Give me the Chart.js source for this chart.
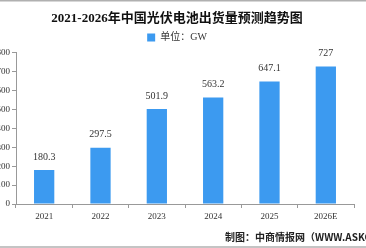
<!DOCTYPE html>
<html><head><meta charset="utf-8">
<script src="https://cdn.jsdelivr.net/npm/chart.js@4/dist/chart.umd.min.js"></script>
<style>
html,body{margin:0;padding:0;background:#fff;}
#wrap{position:relative;width:366px;height:248px;}
canvas{display:block;}
</style></head>
<body><div id="wrap"><canvas id="c" width="366" height="248"></canvas></div>
<script>
const categories = ['2021','2022','2023','2024','2025','2026E'];
const shipments = [180.3, 297.5, 501.9, 563.2, 647.1, 727];
const valueLabels = ['180.3','297.5','501.9','563.2','647.1','727'];
const yTicks = [0,100,200,300,400,500,600,700,800];
const titleText = '2021-2026年中国光伏电池出货量预测趋势图';
const legendText = '单位：GW';
const sourceText = '制图：中商情报网（WWW.ASKCI.COM）';

const serif = '"Liberation Serif","Noto Sans CJK SC",serif';
const cjk = '"Noto Sans CJK SC","Liberation Sans",sans-serif';

const deco = {
  id:'deco',
  beforeDraw(chart){
    const ctx = chart.ctx;
    ctx.save();
    ctx.fillStyle='#fff'; ctx.fillRect(0,0,chart.width,chart.height);
    ctx.restore();
  },
  afterDraw(chart){
    const ctx = chart.ctx;
    ctx.save();
    ctx.strokeStyle='#b0b0b0'; ctx.lineWidth=1.5;
    ctx.beginPath(); ctx.moveTo(0,0.75); ctx.lineTo(chart.width,0.75); ctx.stroke();
    ctx.beginPath(); ctx.moveTo(0,247); ctx.lineTo(chart.width,247); ctx.stroke();
    const meta = chart.getDatasetMeta(0);
    ctx.fillStyle='#333';
    ctx.font = '10px '+serif;
    ctx.textAlign='center'; ctx.textBaseline='middle';
    meta.data.forEach((bar,i)=>{ ctx.fillText(valueLabels[i], bar.x, bar.y-13); });
    ctx.font = 'bold 10px '+cjk;
    ctx.textAlign='left';
    ctx.fillStyle='#222';
    ctx.fillText(sourceText, 225, 237);
    ctx.restore();
  }
};

new Chart(document.getElementById('c'), {
  type:'bar',
  data:{ labels:categories, datasets:[{ label:legendText, data:shipments,
    backgroundColor:'#3c9af0', borderWidth:0,
    barPercentage:0.36, categoryPercentage:1 }]},
  options:{
    responsive:false, animation:false,
    layout:{padding:{top:0,right:12,left:0,bottom:0}},
    plugins:{
      title:{display:true, text:titleText, color:'#111',
        font:{family:serif, size:13, weight:'bold'}, padding:{top:11,bottom:1}},
      legend:{display:true, labels:{boxWidth:8, boxHeight:8, color:'#333', padding:5,
        font:{family:serif, size:10}}},
      tooltip:{enabled:false}
    },
    scales:{
      x:{
        grid:{display:true, drawOnChartArea:false, drawTicks:true, tickLength:4, color:'#999', offset:true},
        border:{display:true, color:'#999'},
        ticks:{color:'#333', font:{family:serif, size:9}, padding:3},
        afterFit(s){ s.height = 44; }
      },
      y:{
        min:0, max:800,
        afterBuildTicks(s){ s.ticks = yTicks.map(v=>({value:v})); },
        grid:{display:true, drawOnChartArea:false, drawTicks:true, tickLength:4, color:'#999'},
        border:{display:true, color:'#999'},
        ticks:{color:'#333', font:{family:serif, size:9}, padding:2},
        afterFit(s){ s.width = 16; }
      }
    }
  },
  plugins:[deco]
});
</script></body></html>
